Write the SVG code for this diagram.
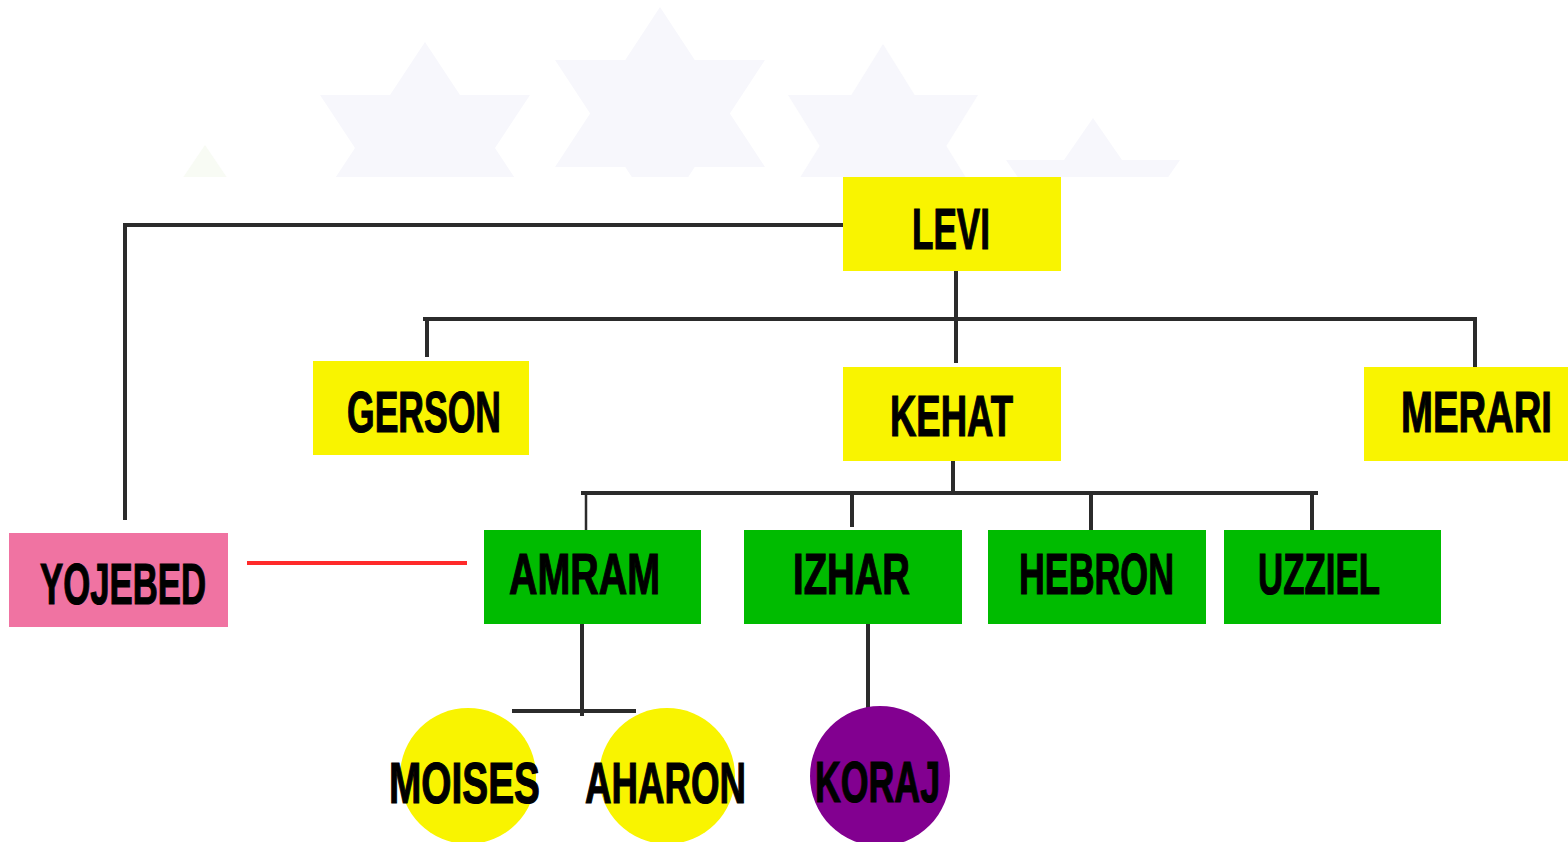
<svg xmlns="http://www.w3.org/2000/svg" width="1568" height="842" viewBox="0 0 1568 842">
<style>
.ln{stroke:#2b2b2b;stroke-width:4;fill:none;stroke-linecap:butt}
.red{stroke:#ff2a2a;stroke-width:4;fill:none}
.y{fill:#f9f400}
.g{fill:#00bb00}
.p{fill:#f073a2}
.pu{fill:#820090}
.star{fill:#f7f7fc}
text{font-family:"Liberation Sans",Arial,sans-serif;font-weight:bold;font-size:57px;fill:#000;stroke:#000;stroke-width:1.2}
</style>
<defs>
<clipPath id="clipTop"><rect x="0" y="0" width="1568" height="177"/></clipPath>
</defs>
<rect width="1568" height="842" fill="#ffffff"/>
<g id="stars" clip-path="url(#clipTop)">
<polygon fill="#f8fbf4" points="205,145 232,185 178,185"/>
<polygon class="star" points="425,42 530,201 320,201"/>
<polygon class="star" points="320,95 530,95 425,254"/>
<polygon class="star" points="660,7 765,167 555,167"/>
<polygon class="star" points="555,60 765,60 660,220"/>
<polygon class="star" points="883,44 978,197 788,197"/>
<polygon class="star" points="788,95 978,95 883,248"/>
<polygon class="star" points="1093,118 1180,244 1006,244"/>
<polygon class="star" points="1006,160 1180,160 1093,286"/>
</g>
<g id="connectors">
<polyline class="ln" points="843,225 125,225 125,520"/>
<line class="ln" x1="956" y1="271" x2="956" y2="363"/>
<line class="ln" x1="423" y1="319" x2="1477" y2="319"/>
<line class="ln" x1="427" y1="319" x2="427" y2="357"/>
<line class="ln" x1="1475" y1="319" x2="1475" y2="367"/>
<line class="ln" x1="953" y1="461" x2="953" y2="493"/>
<line class="ln" x1="581" y1="493" x2="1318" y2="493"/>
<line class="ln" x1="586" y1="493" x2="586" y2="530" style="stroke-width:2.5"/>
<line class="ln" x1="852" y1="493" x2="852" y2="527"/>
<line class="ln" x1="1091" y1="493" x2="1091" y2="532"/>
<line class="ln" x1="1312" y1="493" x2="1312" y2="530"/>
<line class="red" x1="247" y1="563" x2="467" y2="563"/>
<line class="ln" x1="582" y1="624" x2="582" y2="716"/>
<line class="ln" x1="512" y1="711" x2="636" y2="711"/>
<line class="ln" x1="868" y1="624" x2="868" y2="712"/>
</g>
<g id="levi"><rect class="y" x="843" y="177" width="218" height="94"/><text x="912" y="249" textLength="78" lengthAdjust="spacingAndGlyphs">LEVI</text></g>
<g id="gerson"><rect class="y" x="313" y="361" width="216" height="94"/><text x="347" y="432" textLength="154" lengthAdjust="spacingAndGlyphs">GERSON</text></g>
<g id="kehat"><rect class="y" x="843" y="367" width="218" height="94"/><text x="890" y="436" textLength="123" lengthAdjust="spacingAndGlyphs">KEHAT</text></g>
<g id="merari"><rect class="y" x="1364" y="367" width="204" height="94"/><text x="1401" y="432" textLength="151" lengthAdjust="spacingAndGlyphs">MERARI</text></g>
<g id="yojebed"><rect class="p" x="9" y="533" width="219" height="94"/><text x="40" y="604" textLength="166" lengthAdjust="spacingAndGlyphs">YOJEBED</text></g>
<g id="amram"><rect class="g" x="484" y="530" width="217" height="94"/><text x="509" y="594" textLength="151" lengthAdjust="spacingAndGlyphs">AMRAM</text></g>
<g id="izhar"><rect class="g" x="744" y="530" width="218" height="94"/><text x="793" y="594" textLength="117" lengthAdjust="spacingAndGlyphs">IZHAR</text></g>
<g id="hebron"><rect class="g" x="988" y="530" width="218" height="94"/><text x="1019" y="594" textLength="155" lengthAdjust="spacingAndGlyphs">HEBRON</text></g>
<g id="uzziel"><rect class="g" x="1224" y="530" width="217" height="94"/><text x="1258" y="594" textLength="122" lengthAdjust="spacingAndGlyphs">UZZIEL</text></g>
<g id="moises"><circle class="y" cx="468" cy="776" r="68"/><text x="389" y="803" textLength="151" lengthAdjust="spacingAndGlyphs">MOISES</text></g>
<g id="aharon"><circle class="y" cx="667" cy="776" r="68"/><text x="585" y="803" textLength="161" lengthAdjust="spacingAndGlyphs">AHARON</text></g>
<g id="koraj"><circle class="pu" cx="880" cy="776" r="70"/><text x="815" y="802" textLength="125" lengthAdjust="spacingAndGlyphs">KORAJ</text></g>
</svg>
